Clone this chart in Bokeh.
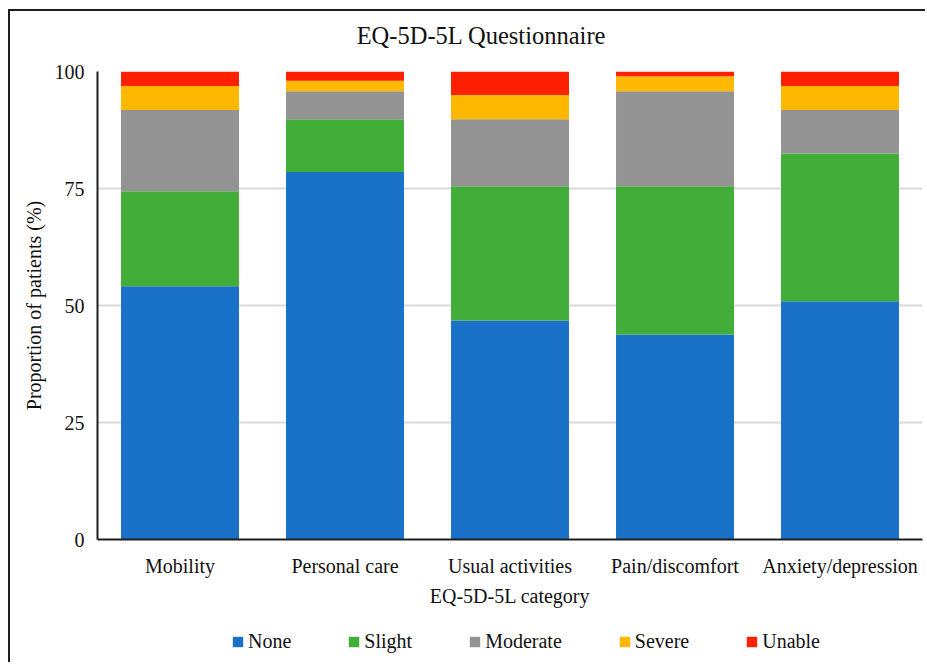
from bokeh.plotting import figure
from bokeh.models import Legend, LegendItem, FactorRange, FixedTicker, Label, Range1d
from bokeh.layouts import column
from bokeh.embed import file_html
from bokeh.resources import INLINE

categories = ["Mobility", "Personal care", "Usual activities", "Pain/discomfort", "Anxiety/depression"]
levels = ["None", "Slight", "Moderate", "Severe", "Unable"]
none_vals = [54.1, 78.5, 46.8, 43.8, 50.9]
slight_vals = [20.3, 11.3, 28.7, 31.7, 31.6]
moderate_vals = [17.4, 6.0, 14.3, 20.3, 9.3]
severe_vals = [5.1, 2.2, 5.2, 3.2, 5.1]
unable_vals = [3.1, 2.0, 5.0, 1.0, 3.1]
y_ticks = [0, 25, 50, 75, 100]
colors = ["#1a72c8", "#43ad3a", "#939393", "#ffb800", "#ff2000"]
title_text = "EQ-5D-5L Questionnaire"

data = dict(cat=categories, None_=none_vals, Slight=slight_vals, Moderate=moderate_vals,
            Severe=severe_vals, Unable=unable_vals)
keys = ["None_", "Slight", "Moderate", "Severe", "Unable"]

FONT = "Liberation Serif"
W = 915

# title strip (pixel-scaled ranges so the label sits where the title is)
pt = figure(width=W, height=48, output_backend="svg", toolbar_location=None,
            x_axis_type=None, y_axis_type=None,
            x_range=Range1d(0, 825), y_range=Range1d(0, 48),
            min_border_left=87, min_border_right=3, min_border_top=0, min_border_bottom=0)
pt.outline_line_color = None
pt.xgrid.grid_line_color = None
pt.ygrid.grid_line_color = None
pt.add_layout(Label(x=384, y=24, text=title_text, text_align="center", text_baseline="middle",
                    text_font=FONT, text_font_size="24.5px", text_color="#111111"))

# main chart
p = figure(x_range=FactorRange(*categories, range_padding=0), y_range=(0, 100),
           width=W, height=551, output_backend="svg", toolbar_location=None,
           min_border_left=87, min_border_right=3, min_border_top=12, min_border_bottom=71)

renderers = p.vbar_stack(keys, x="cat", width=0.715, color=colors, source=data, line_width=0)

p.outline_line_color = None
p.xgrid.grid_line_color = None
p.ygrid.grid_line_color = "#d9d9d9"
p.ygrid.grid_line_width = 2
p.yaxis.ticker = FixedTicker(ticks=y_ticks)

for ax in (p.xaxis[0], p.yaxis[0]):
    ax.axis_line_color = "#1e1e1e"
    ax.axis_line_width = 2
    ax.major_tick_line_color = None
    ax.minor_tick_line_color = None
    ax.major_label_text_font = FONT
    ax.major_label_text_font_size = "20px"
    ax.major_label_text_color = "#111111"
    ax.axis_label_text_font = FONT
    ax.axis_label_text_font_size = "20px"
    ax.axis_label_text_font_style = "normal"
    ax.axis_label_text_color = "#111111"

p.xaxis.axis_label = "EQ-5D-5L category"
p.yaxis.axis_label = "Proportion of patients (%)"
p.xaxis.major_label_standoff = 9
p.xaxis.axis_label_standoff = 5
p.yaxis.major_label_standoff = 7
p.yaxis.axis_label_standoff = 7

# legend-only strip below the chart
pl = figure(x_range=FactorRange(*categories), y_range=(1000, 1001),
            width=W, height=52, output_backend="svg", toolbar_location=None,
            x_axis_type=None, y_axis_type=None,
            min_border_left=87, min_border_right=3, min_border_top=0, min_border_bottom=0)
pl.outline_line_color = None
pl.xgrid.grid_line_color = None
pl.ygrid.grid_line_color = None
lrs = pl.vbar_stack(keys, x="cat", width=0.7, color=colors, source=data, line_width=0)

legend = Legend(items=[LegendItem(label=lab, renderers=[r]) for lab, r in zip(levels, lrs)],
                orientation="horizontal", location=(134, 9))
legend.border_line_color = None
legend.background_fill_alpha = 0
legend.label_text_font = FONT
legend.label_text_font_size = "20px"
legend.label_text_color = "#111111"
legend.glyph_width = 13
legend.glyph_height = 13
legend.label_standoff = 4
legend.spacing = 56
legend.margin = 0
legend.padding = 0
pl.add_layout(legend)

layout = column(pt, p, pl, spacing=0,
                styles={"margin-left": "8px", "margin-top": "9px", "overflow": "hidden",
                        "border-top": "2px solid #1e1e1e", "border-left": "2px solid #1e1e1e"})

open("out.html", "w").write(file_html(layout, INLINE))
